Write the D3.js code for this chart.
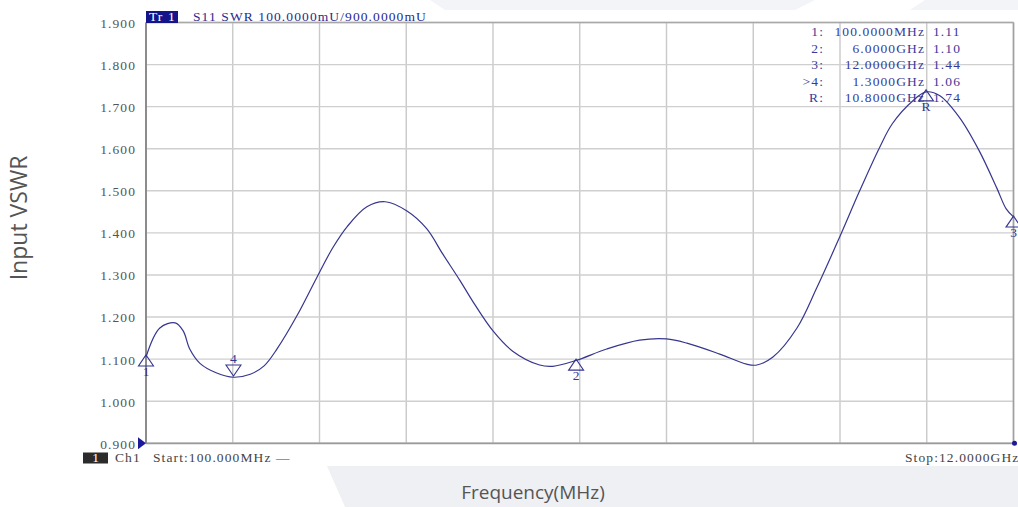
<!DOCTYPE html>
<html><head><meta charset="utf-8">
<script src="https://cdn.jsdelivr.net/npm/d3@7"></script>
<style>
html,body{margin:0;padding:0;background:#fff;}
svg{display:block;}
</style></head>
<body>
<svg id="chart" width="1018" height="507"></svg>
<script>
// ---- data ----
const freqGHz = [0.10,0.29,0.50,0.61,0.70,0.84,1.07,1.30,1.53,1.72,1.90,2.17,2.44,2.66,2.86,3.13,3.38,3.68,3.95,4.17,4.41,4.58,4.86,5.13,5.50,5.68,6.00,6.42,6.87,7.24,7.52,7.97,8.34,8.48,8.70,9.03,9.30,9.61,9.89,10.16,10.34,10.62,10.80,10.99,11.26,11.53,11.77,11.90,12.00];
const vswr    = [1.105,1.174,1.186,1.167,1.124,1.090,1.067,1.057,1.064,1.084,1.125,1.203,1.293,1.364,1.415,1.462,1.474,1.452,1.410,1.350,1.286,1.238,1.167,1.119,1.086,1.083,1.097,1.124,1.145,1.148,1.138,1.112,1.088,1.086,1.105,1.174,1.269,1.388,1.500,1.602,1.660,1.714,1.735,1.726,1.674,1.595,1.507,1.457,1.438];
const markerIds   = ["1","2","3","4","R"];
const markerFreq  = [0.1, 6.0, 12.0, 1.3, 10.8];
const markerVal   = [1.11, 1.10, 1.44, 1.06, 1.74];
const markerFreqLabels = ["100.0000MHz","6.0000GHz","12.0000GHz","1.3000GHz","10.8000GHz"];
const markerValLabels  = ["1.11","1.10","1.44","1.06","1.74"];
const markerPrefix     = ["1:","2:","3:",">4:","R:"];
const yTicks = [0.9,1.0,1.1,1.2,1.3,1.4,1.5,1.6,1.7,1.8,1.9];
const yTickLabels = ["0.900","1.000","1.100","1.200","1.300","1.400","1.500","1.600","1.700","1.800","1.900"];
const xStart = 0.1, xStop = 12.0, xDivs = 10;

// ---- layout ----
const svg = d3.select("#chart");
const L = 146, R = 1013.5, T = 22.5, B = 443.3;
const x = d3.scaleLinear().domain([xStart, xStop]).range([L, R]);
const y = d3.scaleLinear().domain([0.9, 1.9]).range([B, T]);
const serif = "'Liberation Serif', 'DejaVu Serif', serif";
const navy = "#36368f";
const fs = "13.5px", ls = "1.1px";

function rightAlign(sel, xr) {
  sel.each(function () {
    const w = this.getBBox().width;
    d3.select(this).attr("text-anchor", "start").attr("x", xr - w);
  });
}

// background watermark shapes
svg.append("polygon").attr("points","327,466 1018,466 1018,507 345,507").attr("fill","#eff0f4");
svg.append("polygon").attr("points","430,0 815,0 795,10 445,10").attr("fill","#f3f4f7");
svg.append("polygon").attr("points","925,0 1018,0 1018,10 910,10").attr("fill","#f3f4f7");

// grid
const g = svg.append("g");
const xGridVals = d3.range(xDivs + 1).map(i => xStart + (xStop - xStart) * i / xDivs);
g.selectAll("line.vg").data(xGridVals).join("line")
  .attr("x1", d => x(d)).attr("x2", d => x(d)).attr("y1", T).attr("y2", B)
  .attr("stroke", "#c9c9c9").attr("stroke-width", 1.4);
g.selectAll("line.hg").data(yTicks).join("line")
  .attr("x1", L).attr("x2", R).attr("y1", d => y(d)).attr("y2", d => y(d))
  .attr("stroke", "#cfcfcf").attr("stroke-width", 1.4);

// frame
g.append("line").attr("x1", L).attr("x2", R).attr("y1", T).attr("y2", T).attr("stroke", "#a8a8a8").attr("stroke-width", 1.6);
g.append("line").attr("x1", R).attr("x2", R).attr("y1", T).attr("y2", B).attr("stroke", "#a0a0a0").attr("stroke-width", 1.6);
g.append("line").attr("x1", L).attr("x2", R).attr("y1", B).attr("y2", B).attr("stroke", "#9a9a9a").attr("stroke-width", 1.8);
g.append("line").attr("x1", L).attr("x2", L).attr("y1", T).attr("y2", B).attr("stroke", "#8c8c8c").attr("stroke-width", 2);

// y axis labels
const yAxis = d3.axisLeft(y).tickValues(yTicks).tickSize(0).tickPadding(0)
  .tickFormat((d, i) => yTickLabels[i]);
const ya = svg.append("g").call(yAxis);
ya.select(".domain").remove();
ya.selectAll("text").attr("font-family", serif).attr("font-size", fs).attr("letter-spacing", ls)
  .attr("fill", "#555").attr("dy", "0.36em");
rightAlign(ya.selectAll("text"), L - 10);

// reference-level arrow
svg.append("path").attr("d", `M${L-8},${B-6} L${L},${B} L${L-8},${B+6} Z`).attr("fill", "#1a1a9a");
svg.append("circle").attr("cx", R + 1).attr("cy", B).attr("r", 2.5).attr("fill", "#1a1a9a");

// curve
const line = d3.line().x((d, i) => x(freqGHz[i])).y(d => y(d)).curve(d3.curveCatmullRom.alpha(0.5));
svg.append("path").datum(vswr).attr("d", line).attr("fill", "none").attr("stroke", navy).attr("stroke-width", 1.2);

// markers
const mk = svg.append("g");
markerIds.forEach((id, i) => {
  const cx = x(markerFreq[i]), cy = y(markerVal[i]);
  const w = 7.5, h = 11;
  if (id === "4") {
    mk.append("path").attr("d", `M${cx},${cy} L${cx-w},${cy-h} L${cx+w},${cy-h} Z`)
      .attr("fill", "none").attr("stroke", navy).attr("stroke-width", 1.1);
    mk.append("text").attr("x", cx).attr("y", cy - h - 2).attr("text-anchor", "middle")
      .attr("font-family", serif).attr("font-size", fs).attr("fill", navy).text(id);
  } else {
    mk.append("path").attr("d", `M${cx},${cy} L${cx-w},${cy+h} L${cx+w},${cy+h} Z`)
      .attr("fill", "none").attr("stroke", navy).attr("stroke-width", 1.1);
    mk.append("text").attr("x", cx).attr("y", cy + h + 10).attr("text-anchor", "middle")
      .attr("font-family", serif).attr("font-size", fs).attr("fill", navy).text(id);
  }
});

// marker table
const tbl = svg.append("g").attr("font-family", serif).attr("font-size", fs).attr("letter-spacing", ls).attr("fill", "#3a3a9a");
markerPrefix.forEach((p, i) => {
  const yy = 36 + i * 16.5;
  rightAlign(tbl.append("text").attr("y", yy).text(p), 824);
  rightAlign(tbl.append("text").attr("y", yy).text(markerFreqLabels[i]), 925);
  tbl.append("text").attr("x", 933).attr("y", yy).text(markerValLabels[i]);
});

// header
svg.append("rect").attr("x", 146).attr("y", 11).attr("width", 32).attr("height", 12).attr("fill", "#14148a");
svg.append("text").attr("x", 149).attr("y", 21).attr("font-family", serif).attr("font-size", fs).attr("letter-spacing", ls).attr("fill", "#fff").text("Tr 1");
svg.append("text").attr("x", 193).attr("y", 21).attr("font-family", serif).attr("font-size", fs).attr("letter-spacing", ls).attr("fill", "#2a2a90").text("S11 SWR 100.0000mU/900.0000mU");

// footer
svg.append("rect").attr("x", 83).attr("y", 452.5).attr("width", 25).attr("height", 11).attr("fill", "#2b2b2b");
svg.append("text").attr("x", 95.5).attr("y", 462).attr("text-anchor", "middle").attr("font-family", serif).attr("font-size", fs).attr("fill", "#fff").text("1");
svg.append("text").attr("x", 115).attr("y", 462).attr("font-family", serif).attr("font-size", fs).attr("letter-spacing", ls).attr("fill", "#444").text("Ch1");
svg.append("text").attr("x", 153).attr("y", 462).attr("font-family", serif).attr("font-size", fs).attr("letter-spacing", ls).attr("fill", "#444").text("Start:100.000MHz —");
svg.append("text").attr("x", 905).attr("y", 462).attr("font-family", serif).attr("font-size", fs).attr("letter-spacing", ls).attr("fill", "#444").text("Stop:12.0000GHz");

// axis titles
svg.append("text").attr("transform", "translate(27,218) rotate(-90)").attr("text-anchor", "middle")
  .attr("font-family", "'Open Sans', sans-serif").attr("font-size", "23px").attr("fill", "#555").text("Input VSWR");
svg.append("text").attr("x", 533).attr("y", 499).attr("text-anchor", "middle")
  .attr("font-family", "'Open Sans', sans-serif").attr("font-size", "19px").attr("fill", "#555").text("Frequency(MHz)");
</script>
</body></html>
